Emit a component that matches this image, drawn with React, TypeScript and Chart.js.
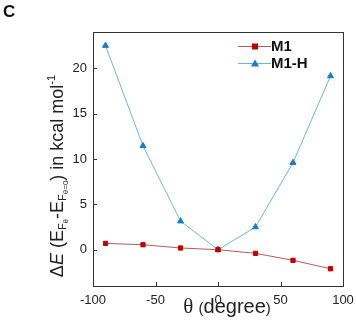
import React, { useEffect, useRef } from "react";
import { Chart, registerables } from "chart.js";

Chart.register(...registerables);

const angles = [-90, -60, -30, 0, 30, 60, 90];
const m1Values = [0.7, 0.55, 0.19, 0, -0.4, -1.17, -2.1];
const m1hValues = [22.5, 11.45, 3.15, 0, 2.5, 9.6, 19.15];
const seriesNames = ["M1", "M1-H"];
const xTicks = [-100, -50, 0, 50, 100];
const yTicks = [0, 5, 10, 15, 20];

const FONT = "'Liberation Sans', Arial, sans-serif";

const decorPlugin = {
  id: "decor",
  afterDatasetsDraw(chart: any) {
    const { ctx, chartArea, scales } = chart;
    const { left, right, top, bottom } = chartArea;
    ctx.save();
    ctx.strokeStyle = "#333";
    ctx.lineWidth = 1;
    ctx.strokeRect(Math.round(left) + 0.5, Math.round(top) + 0.5, Math.round(right - left), Math.round(bottom - top));
    ctx.beginPath();
    scales.x.ticks.forEach((t: any) => {
      const px = Math.round(scales.x.getPixelForValue(t.value)) + 0.5;
      ctx.moveTo(px, bottom);
      ctx.lineTo(px, bottom - 4);
    });
    scales.y.ticks.forEach((t: any) => {
      const py = Math.round(scales.y.getPixelForValue(t.value)) + 0.5;
      ctx.moveTo(left, py);
      ctx.lineTo(left + 4, py);
    });
    ctx.stroke();

    // legend
    const rows = [46.5, 63.5];
    chart.data.datasets.forEach((ds: any, i: number) => {
      const y = rows[i];
      ctx.strokeStyle = ds.borderColor;
      ctx.lineWidth = 1;
      ctx.beginPath();
      ctx.moveTo(238, y);
      ctx.lineTo(271, y);
      ctx.stroke();
      ctx.fillStyle = ds.pointBackgroundColor;
      if (ds.pointStyle === "rect") {
        ctx.fillRect(252, y - 3, 6, 6);
      } else {
        ctx.beginPath();
        ctx.moveTo(255, y - 4);
        ctx.lineTo(259, y + 3);
        ctx.lineTo(251, y + 3);
        ctx.closePath();
        ctx.fill();
      }
      ctx.fillStyle = "#111";
      ctx.font = `bold 15px ${FONT}`;
      ctx.textBaseline = "middle";
      ctx.textAlign = "left";
      ctx.fillText(ds.label, 271, y + 0.5);
    });

    // panel letter
    ctx.fillStyle = "#111";
    ctx.font = `bold 17px ${FONT}`;
    ctx.textBaseline = "alphabetic";
    ctx.fillText("C", 3, 17);

    // y title
    const parts: [string, string, number][] = [
      ["Δ", `18px ${FONT}`, 0],
      ["E", `italic 18px ${FONT}`, 0],
      [" (E", `18px ${FONT}`, 0],
      ["F", `11px ${FONT}`, 3],
      ["θ", `8px ${FONT}`, 5],
      ["-E", `18px ${FONT}`, 0],
      ["F", `11px ${FONT}`, 3],
      ["θ=0", `8px ${FONT}`, 5],
      [") in kcal mol", `18px ${FONT}`, 0],
      ["-1", `11px ${FONT}`, -8],
    ];
    let total = 0;
    parts.forEach(([s, f]) => {
      ctx.font = f;
      total += ctx.measureText(s).width;
    });
    ctx.save();
    ctx.translate(63, 176);
    ctx.rotate(-Math.PI / 2);
    let x = -total / 2;
    ctx.fillStyle = "#222";
    ctx.textAlign = "left";
    ctx.textBaseline = "alphabetic";
    parts.forEach(([s, f, dy]) => {
      ctx.font = f;
      ctx.fillText(s, x, dy);
      x += ctx.measureText(s).width;
    });
    ctx.restore();

    // x title
    const xparts: [string, string][] = [
      ["θ", `21px 'Liberation Serif', 'Times New Roman', serif`],
      [" ", `19px ${FONT}`],
      ["(", `15px ${FONT}`],
      ["degree", `20px ${FONT}`],
      [")", `15px ${FONT}`],
    ];
    let xt = 0;
    xparts.forEach(([s, f]) => {
      ctx.font = f;
      xt += ctx.measureText(s).width;
    });
    let xx = 227 - xt / 2;
    ctx.fillStyle = "#222";
    xparts.forEach(([s, f]) => {
      ctx.font = f;
      ctx.fillText(s, xx, 313);
      xx += ctx.measureText(s).width;
    });
    ctx.restore();
  },
};

export default function App() {
  const ref = useRef<HTMLCanvasElement>(null);
  useEffect(() => {
    if (!ref.current) return;
    const chart = new Chart(ref.current, {
      type: "line",
      data: {
        datasets: [
          {
            label: seriesNames[0],
            data: angles.map((a, i) => ({ x: a, y: m1Values[i] })),
            borderColor: "#b85a55",
            backgroundColor: "#c00000",
            pointBackgroundColor: "#c00000",
            pointBorderColor: "#c00000",
            pointStyle: "rect",
            pointRadius: 3,
            borderWidth: 1,
            tension: 0,
          },
          {
            label: seriesNames[1],
            data: angles.map((a, i) => ({ x: a, y: m1hValues[i] })),
            borderColor: "#6bb5e0",
            backgroundColor: "#1a7cc4",
            pointBackgroundColor: "#1a7cc4",
            pointBorderColor: "#1a7cc4",
            pointStyle: "triangle",
            pointRadius: 3.5,
            borderWidth: 1,
            tension: 0,
          },
        ],
      },
      options: {
        animation: false,
        responsive: false,
        devicePixelRatio: 1,
        layout: { padding: { top: 32, right: 13, left: 0, bottom: 0 } },
        plugins: { legend: { display: false }, tooltip: { enabled: false } },
        scales: {
          x: {
            type: "linear",
            min: -100,
            max: 100,
            afterBuildTicks: (s: any) => {
              s.ticks = xTicks.map((v) => ({ value: v }));
            },
            afterFit: (s: any) => {
              s.height = 42;
              s.paddingLeft = 0;
              s.paddingRight = 0;
            },
            ticks: { font: { size: 13, family: FONT }, color: "#222", padding: 7, maxRotation: 0 },
            grid: { display: false, drawTicks: false },
            border: { display: false },
          },
          y: {
            type: "linear",
            min: -4,
            max: 24,
            afterBuildTicks: (s: any) => {
              s.ticks = yTicks.map((v) => ({ value: v }));
            },
            afterFit: (s: any) => {
              s.width = 93;
              s.paddingTop = 0;
              s.paddingBottom = 0;
            },
            ticks: { font: { size: 13, family: FONT }, color: "#222", padding: 6 },
            grid: { display: false, drawTicks: false },
            border: { display: false },
          },
        },
      },
      plugins: [decorPlugin],
    });
    return () => chart.destroy();
  }, []);
  return (
    <div style={{ position: "fixed", left: 0, top: 0, width: 356, height: 328, background: "#fff" }}>
      <canvas ref={ref} width={356} height={328} style={{ width: 356, height: 328 }} />
    </div>
  );
}
